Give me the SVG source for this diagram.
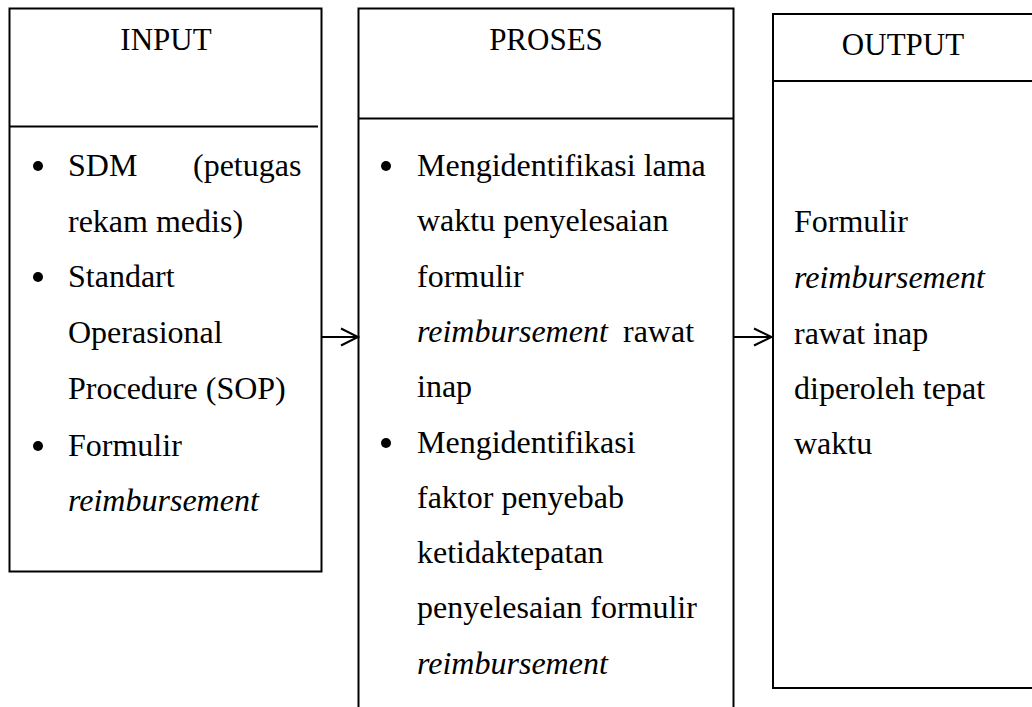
<svg xmlns="http://www.w3.org/2000/svg" width="1032" height="707" viewBox="0 0 1032 707">
<style>
.box{fill:none;stroke:#000;stroke-width:2}
.ln{stroke:#000;stroke-width:2;fill:none}
.t{font-family:"Liberation Serif","Times New Roman",serif;font-size:32px;fill:#000}
.h{font-family:"Liberation Serif","Times New Roman",serif;font-size:31px;fill:#000;text-anchor:middle}
.i{font-style:italic}
.b{fill:#000}
</style>
<rect width="1032" height="707" fill="#fff"/>
<g id="input">
<rect class="box" x="9.5" y="8.5" width="312" height="563"/>
<line class="ln" x1="10" y1="126.5" x2="318" y2="126.5"/>
<text class="h" x="166" y="50">INPUT</text>
<circle class="b" cx="38" cy="166" r="5"/>
<text class="t" y="176"><tspan x="68">SDM</tspan><tspan x="193">(petugas</tspan></text>
<text class="t" x="68" y="231.5">rekam medis)</text>
<circle class="b" cx="38" cy="277" r="5"/>
<text class="t" x="68" y="287">Standart</text>
<text class="t" x="68" y="343">Operasional</text>
<text class="t" x="68" y="398.5">Procedure (SOP)</text>
<circle class="b" cx="38" cy="446" r="5"/>
<text class="t" x="68" y="456">Formulir</text>
<text class="t i" x="68" y="511">reimbursement</text>
</g>
<g id="proses">
<path class="ln" d="M358.5 720 V8.5 H733.5 V720"/>
<line class="ln" x1="358.5" y1="118.5" x2="733.5" y2="118.5"/>
<text class="h" x="546" y="50">PROSES</text>
<circle class="b" cx="386" cy="166" r="5"/>
<text class="t" x="417" y="176">Mengidentifikasi lama</text>
<text class="t" x="417" y="231.3">waktu penyelesaian</text>
<text class="t" x="417" y="286.6">formulir</text>
<text class="t" y="342"><tspan x="417" class="i">reimbursement</tspan><tspan x="623">rawat</tspan></text>
<text class="t" x="417" y="397.2">inap</text>
<circle class="b" cx="386" cy="443" r="5"/>
<text class="t" x="417" y="452.5">Mengidentifikasi</text>
<text class="t" x="417" y="507.8">faktor penyebab</text>
<text class="t" x="417" y="563.1">ketidaktepatan</text>
<text class="t" x="417" y="618.4">penyelesaian formulir</text>
<text class="t i" x="417" y="673.7">reimbursement</text>
</g>
<g id="output">
<path class="ln" d="M1040 14 H773 V688 H1040"/>
<line class="ln" x1="773" y1="81" x2="1040" y2="81"/>
<text class="h" x="903" y="55">OUTPUT</text>
<text class="t" x="794" y="232">Formulir</text>
<text class="t i" x="794" y="288">reimbursement</text>
<text class="t" x="794" y="344">rawat inap</text>
<text class="t" x="794" y="399">diperoleh tepat</text>
<text class="t" x="794" y="454">waktu</text>
</g>
<g id="connectors">
<line class="ln" x1="322" y1="337" x2="357" y2="337"/>
<polyline class="ln" points="341,328.5 358,337 341,345.5"/>
<line class="ln" x1="734" y1="337" x2="771" y2="337"/>
<polyline class="ln" points="754,328.5 771.5,337 754,345.5"/>
</g>
</svg>
